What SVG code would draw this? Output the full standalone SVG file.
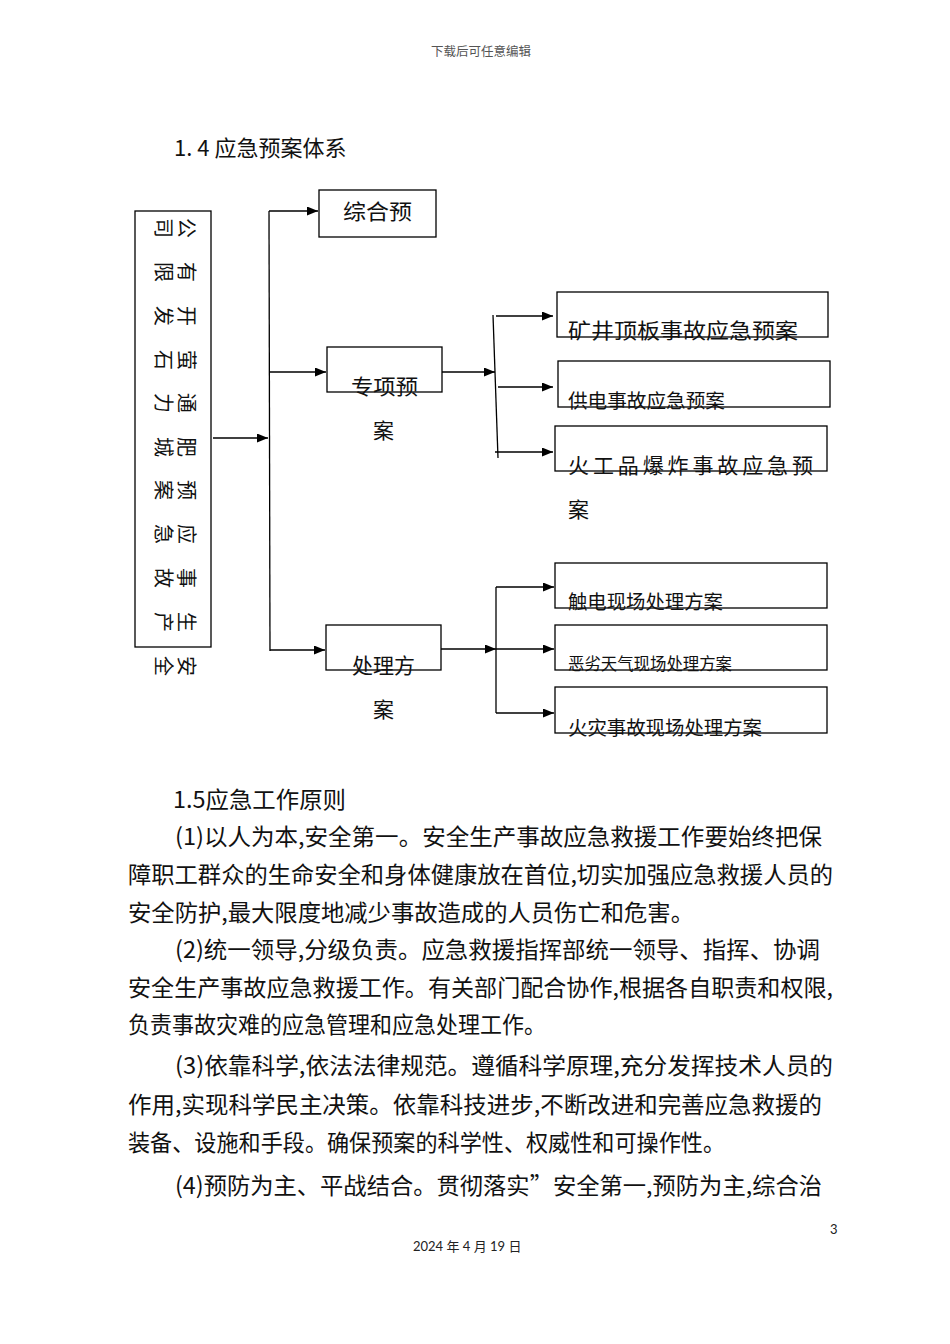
<svg xmlns="http://www.w3.org/2000/svg" width="950" height="1344" viewBox="0 0 950 1344">
<style>
.bg{fill:#ffffff}
.box{fill:none;stroke:#000;stroke-width:1.3}
.ln{fill:none;stroke:#000;stroke-width:1.3}
.arr{fill:none;stroke:#000;stroke-width:1.3;marker-end:url(#ah)}
.t{font-family:"Noto Sans CJK SC","Noto Sans",sans-serif;fill:#111}
.nd{font-size:21px}
.vt{font-size:20px;text-anchor:middle;dominant-baseline:central}
.body{font-size:23px}
.hd{font-family:"Noto Sans CJK SC",sans-serif;font-size:12.5px;fill:#555;text-anchor:middle}
.ft{font-family:Lato,"Noto Sans CJK SC",sans-serif;font-size:13px;fill:#222}
</style>
<defs>
<marker id="ah" markerUnits="userSpaceOnUse" markerWidth="12" markerHeight="10" refX="11" refY="4.5" orient="auto">
<path d="M0,0 L11,4.5 L0,9 z" fill="#000"/>
</marker>
</defs>
<rect class="bg" x="0" y="0" width="950" height="1344"/>

<text class="hd" x="481" y="56">下载后可任意编辑</text>
<text class="t" x="174" y="156" style="font-size:22px">1. 4 应急预案体系</text>

<g id="company">
<rect class="box" x="135" y="211" width="76" height="436"/>
<g class="t vt">
<text transform="rotate(90 187 228)" x="187" y="228">公</text>
<text transform="rotate(90 164 228)" x="164" y="228">司</text>
<text transform="rotate(90 187 272)" x="187" y="272">有</text>
<text transform="rotate(90 164 272)" x="164" y="272">限</text>
<text transform="rotate(90 187 316)" x="187" y="316">开</text>
<text transform="rotate(90 164 316)" x="164" y="316">发</text>
<text transform="rotate(90 187 360)" x="187" y="360">萤</text>
<text transform="rotate(90 164 360)" x="164" y="360">石</text>
<text transform="rotate(90 187 403)" x="187" y="403">通</text>
<text transform="rotate(90 164 403)" x="164" y="403">力</text>
<text transform="rotate(90 187 447)" x="187" y="447">肥</text>
<text transform="rotate(90 164 447)" x="164" y="447">城</text>
<text transform="rotate(90 187 490)" x="187" y="490">预</text>
<text transform="rotate(90 164 490)" x="164" y="490">案</text>
<text transform="rotate(90 187 534)" x="187" y="534">应</text>
<text transform="rotate(90 164 534)" x="164" y="534">急</text>
<text transform="rotate(90 187 578)" x="187" y="578">事</text>
<text transform="rotate(90 164 578)" x="164" y="578">故</text>
<text transform="rotate(90 187 622)" x="187" y="622">生</text>
<text transform="rotate(90 164 622)" x="164" y="622">产</text>
<text transform="rotate(90 187 666)" x="187" y="666">安</text>
<text transform="rotate(90 164 666)" x="164" y="666">全</text>
</g>
</g>

<g id="zonghe">
<rect class="box" x="319" y="190" width="117" height="47"/>
<text class="t nd" x="343" y="219" textLength="69" lengthAdjust="spacingAndGlyphs">综合预</text>
</g>

<g id="zhuanxiang">
<rect class="box" x="327" y="347" width="115" height="45"/>
<text class="t nd" x="351" y="394" textLength="67" lengthAdjust="spacingAndGlyphs">专项预</text>
<text class="t nd" x="373" y="438">案</text>
</g>

<g id="chuli">
<rect class="box" x="326" y="625" width="115" height="45"/>
<text class="t nd" x="352" y="673" textLength="63" lengthAdjust="spacingAndGlyphs">处理方</text>
<text class="t nd" x="373" y="717">案</text>
</g>

<g id="kuangjing">
<rect class="box" x="557" y="292" width="271" height="45"/>
<text class="t nd" x="568" y="338" textLength="230" lengthAdjust="spacingAndGlyphs">矿井顶板事故应急预案</text>
</g>
<g id="gongdian">
<rect class="box" x="558" y="361" width="272" height="46"/>
<text class="t" style="font-size:19.5px" x="568" y="408" textLength="157" lengthAdjust="spacingAndGlyphs">供电事故应急预案</text>
</g>
<g id="huogong">
<rect class="box" x="555" y="426" width="272" height="45"/>
<text class="t nd" x="568" y="473" textLength="245" lengthAdjust="spacing">火工品爆炸事故应急预</text>
<text class="t nd" x="568" y="517">案</text>
</g>

<g id="chudian">
<rect class="box" x="555" y="563" width="272" height="45"/>
<text class="t" style="font-size:19.5px" x="568" y="609" textLength="155" lengthAdjust="spacingAndGlyphs">触电现场处理方案</text>
</g>
<g id="elie">
<rect class="box" x="555" y="625" width="272" height="45"/>
<text class="t" style="font-size:16.5px" x="568" y="670" textLength="164" lengthAdjust="spacingAndGlyphs">恶劣天气现场处理方案</text>
</g>
<g id="huozai">
<rect class="box" x="555" y="687" width="272" height="46"/>
<text class="t" style="font-size:19.5px" x="568" y="735" textLength="194" lengthAdjust="spacingAndGlyphs">火灾事故现场处理方案</text>
</g>

<g id="connectors">
<line class="arr" x1="213" y1="438" x2="268" y2="438"/>
<line class="ln" x1="269" y1="211" x2="270" y2="651"/>
<line class="arr" x1="269" y1="211" x2="318" y2="211"/>
<line class="arr" x1="270" y1="372" x2="326" y2="372"/>
<line class="arr" x1="270" y1="650" x2="325" y2="650"/>
<line class="arr" x1="442" y1="372" x2="495" y2="372"/>
<line class="ln" x1="493" y1="315" x2="498" y2="458"/>
<line class="arr" x1="496" y1="316" x2="553" y2="316"/>
<line class="arr" x1="498" y1="387" x2="553" y2="387"/>
<line class="arr" x1="495" y1="452" x2="553" y2="452"/>
<line class="arr" x1="441" y1="649" x2="496" y2="649"/>
<line class="ln" x1="496" y1="587" x2="496" y2="713"/>
<line class="arr" x1="496" y1="587" x2="554" y2="587"/>
<line class="arr" x1="496" y1="649" x2="554" y2="649"/>
<line class="arr" x1="496" y1="713" x2="554" y2="713"/>
</g>

<g id="body" class="t body">
<text x="173" y="808" textLength="173" lengthAdjust="spacingAndGlyphs">1.5应急工作原则</text>
<text x="175" y="845" textLength="647" lengthAdjust="spacingAndGlyphs">(1)以人为本,安全第一。安全生产事故应急救援工作要始终把保</text>
<text x="128" y="883" textLength="705" lengthAdjust="spacingAndGlyphs">障职工群众的生命安全和身体健康放在首位,切实加强应急救援人员的</text>
<text x="128" y="921" textLength="566" lengthAdjust="spacingAndGlyphs">安全防护,最大限度地减少事故造成的人员伤亡和危害。</text>
<text x="175" y="958" textLength="645" lengthAdjust="spacingAndGlyphs">(2)统一领导,分级负责。应急救援指挥部统一领导、指挥、协调</text>
<text x="128" y="996" textLength="705" lengthAdjust="spacingAndGlyphs">安全生产事故应急救援工作。有关部门配合协作,根据各自职责和权限,</text>
<text x="128" y="1033" textLength="418" lengthAdjust="spacingAndGlyphs">负责事故灾难的应急管理和应急处理工作。</text>
<text x="175" y="1074" textLength="658" lengthAdjust="spacingAndGlyphs">(3)依靠科学,依法法律规范。遵循科学原理,充分发挥技术人员的</text>
<text x="128" y="1113" textLength="694" lengthAdjust="spacingAndGlyphs">作用,实现科学民主决策。依靠科技进步,不断改进和完善应急救援的</text>
<text x="128" y="1151" textLength="597" lengthAdjust="spacingAndGlyphs">装备、设施和手段。确保预案的科学性、权威性和可操作性。</text>
<text x="175" y="1194" textLength="647" lengthAdjust="spacingAndGlyphs">(4)预防为主、平战结合。贯彻落实”安全第一,预防为主,综合治</text>
</g>

<text class="ft" x="830" y="1234">3</text>
<text class="ft" x="413" y="1251">2024 年 4 月 19 日</text>
</svg>
